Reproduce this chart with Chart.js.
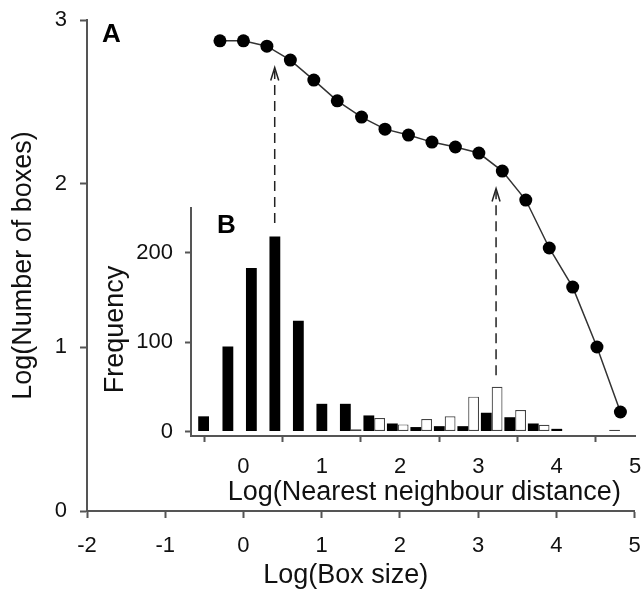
<!DOCTYPE html>
<html>
<head>
<meta charset="utf-8">
<script src="https://cdn.jsdelivr.net/npm/chart.js@4.4.0/dist/chart.umd.min.js"></script>
<style>
  html, body { margin: 0; padding: 0; background: #fff; }
  #wrap { position: relative; width: 641px; height: 592px; }
  #wrap canvas { position: absolute; left: 0; top: 0; }
</style>
</head>
<body>
<div id="wrap">
  <canvas id="mainChart" width="641" height="592"></canvas>
  <canvas id="insetChart" width="641" height="592"></canvas>
</div>
<script>
// panel A: box counting curve
const boxSize = [-0.30, 0.00, 0.30, 0.60, 0.90, 1.20, 1.51, 1.81, 2.11, 2.41, 2.71, 3.01, 3.31, 3.61, 3.91, 4.21, 4.52, 4.82];
const boxCount = [2.873, 2.873, 2.84, 2.755, 2.633, 2.506, 2.407, 2.333, 2.297, 2.254, 2.224, 2.187, 2.077, 1.90, 1.607, 1.368, 1.002, 0.605];

// dashed arrows linking the histogram peaks to the curve
const arrowX = [0.40, 3.23];
const arrowFrom = [1.76, 0.83];
const arrowTo = [2.71, 1.97];

// panel B: nearest neighbour histogram
const nndBins = [-0.44, -0.13, 0.17, 0.47, 0.77, 1.07, 1.37, 1.67, 1.97, 2.27, 2.57, 2.87, 3.17, 3.47, 3.77, 4.07, 4.37, 4.67];
const freqBlack = [17, 95, 183, 218, 124, 31, 31, 18, 9, 5, 6, 6, 21, 16, 9, 3, 0, 0];
const freqWhite = [0, 0, 0, 0, 0, 0, 2.5, 15, 8, 14, 17, 39, 50, 24, 7.5, 0, 0, 2];

const mainXTicks = [-2, -1, 0, 1, 2, 3, 4, 5];
const mainYTicks = [0, 1, 2, 3];
const insetXTicks = [0, 1, 2, 3, 4, 5];
const insetYTicks = [0, 100, 200];

const font = "'Liberation Sans', Arial, sans-serif";
Chart.defaults.font.family = font;
Chart.defaults.color = '#111';

function fixTicks(values) {
    return function (scale) {
        scale.ticks = values.map(v => ({ value: v }));
    };
}

// fixed scale size, no extra edge padding from the labels
function fixSize(prop, size) {
    return function (scale) {
        scale[prop] = size;
        scale.paddingTop = 0;
        scale.paddingBottom = 0;
        scale.paddingLeft = 0;
        scale.paddingRight = 0;
    };
}

const panelLabel = {
    id: 'panelLabel',
    afterDraw(chart, args, opts) {
        const ctx = chart.ctx;
        const a = chart.chartArea;
        ctx.save();
        ctx.font = 'bold 26px ' + font;
        ctx.fillStyle = '#000';
        ctx.textBaseline = 'alphabetic';
        ctx.fillText(opts.text, a.left + opts.dx, a.top + opts.dy);
        ctx.restore();
    }
};

const arrows = {
    id: 'arrows',
    afterDatasetsDraw(chart) {
        const ctx = chart.ctx;
        const xs = chart.scales.x, ys = chart.scales.y;
        ctx.save();
        ctx.strokeStyle = '#222';
        ctx.lineWidth = 1.5;
        for (let i = 0; i < arrowX.length; i++) {
            const x = xs.getPixelForValue(arrowX[i]);
            const y1 = ys.getPixelForValue(arrowFrom[i]);
            const y2 = ys.getPixelForValue(arrowTo[i]);
            ctx.setLineDash([10, 6]);
            ctx.beginPath();
            ctx.moveTo(x, y1);
            ctx.lineTo(x, y2 + 3);
            ctx.stroke();
            ctx.setLineDash([]);
            ctx.beginPath();
            ctx.moveTo(x - 4, y2 + 13);
            ctx.lineTo(x, y2);
            ctx.lineTo(x + 4, y2 + 13);
            ctx.stroke();
        }
        ctx.restore();
    }
};

const axisColor = '#555';

new Chart(document.getElementById('mainChart'), {
    type: 'line',
    data: {
        datasets: [{
            data: boxSize.map((x, i) => ({ x: x, y: boxCount[i] })),
            borderColor: '#333',
            borderWidth: 1.5,
            pointRadius: 6.5,
            pointBackgroundColor: '#000',
            pointBorderColor: '#000',
            pointBorderWidth: 0,
            tension: 0
        }]
    },
    options: {
        responsive: false,
        animation: false,
        layout: { padding: { left: 0, top: 20, right: 6, bottom: 0 } },
        plugins: {
            legend: { display: false },
            tooltip: { enabled: false },
            panelLabel: { text: 'A', dx: 15, dy: 22 }
        },
        scales: {
            x: {
                type: 'linear', min: -2, max: 5,
                afterBuildTicks: fixTicks(mainXTicks),
                afterFit: fixSize('height', 81),
                grid: { drawOnChartArea: false, tickLength: 7, tickColor: axisColor, tickWidth: 2 },
                border: { color: axisColor, width: 2 },
                ticks: { font: { size: 22 }, padding: 15, color: '#111' },
                title: { display: true, text: 'Log(Box size)    ', font: { size: 27 }, padding: 0, color: '#111' }
            },
            y: {
                min: 0, max: 3,
                afterBuildTicks: fixTicks(mainYTicks),
                afterFit: fixSize('width', 87),
                grid: { drawOnChartArea: false, tickLength: 7, tickColor: axisColor, tickWidth: 2 },
                border: { color: axisColor, width: 2 },
                ticks: { font: { size: 22 }, padding: 13, color: '#111' },
                title: { display: true, text: 'Log(Number of boxes)', font: { size: 27 }, padding: { top: 7, bottom: 0 }, color: '#111' }
            }
        }
    },
    plugins: [arrows, panelLabel]
});

new Chart(document.getElementById('insetChart'), {
    type: 'bar',
    data: {
        datasets: [{
            data: nndBins.map((x, i) => ({ x: x, y: freqBlack[i] || null })),
            backgroundColor: '#000',
            borderWidth: 0
        }, {
            data: nndBins.map((x, i) => ({ x: x, y: freqWhite[i] || null })),
            backgroundColor: '#fff',
            borderColor: '#444',
            borderWidth: 1.2,
            borderSkipped: false
        }]
    },
    options: {
        responsive: false,
        animation: false,
        categoryPercentage: 0.92,
        barPercentage: 1.0,
        layout: { padding: { left: 99, top: 208, right: 6, bottom: 83 } },
        plugins: {
            legend: { display: false },
            tooltip: { enabled: false },
            panelLabel: { text: 'B', dx: 26, dy: 25 }
        },
        scales: {
            x: {
                type: 'linear', min: -0.67, max: 5, offset: false,
                afterBuildTicks: fixTicks(insetXTicks),
                afterFit: fixSize('height', 73),
                grid: { drawOnChartArea: false, tickLength: 6, tickColor: axisColor, tickWidth: 2 },
                border: { color: axisColor, width: 2 },
                ticks: { font: { size: 22 }, padding: 12, color: '#111' },
                title: { display: true, text: '   Log(Nearest neighbour distance)', font: { size: 27 }, padding: 0, color: '#111' }
            },
            y: {
                min: -5, max: 250,
                afterBuildTicks: fixTicks(insetYTicks),
                afterFit: fixSize('width', 92),
                grid: { drawOnChartArea: false, tickLength: 6, tickColor: axisColor, tickWidth: 2 },
                border: { color: axisColor, width: 2 },
                ticks: { font: { size: 22 }, padding: 12, color: '#111' },
                title: { display: true, text: 'Frequency  ', font: { size: 27 }, padding: 0, color: '#111' }
            }
        }
    },
    plugins: [panelLabel]
});
</script>
</body>
</html>
